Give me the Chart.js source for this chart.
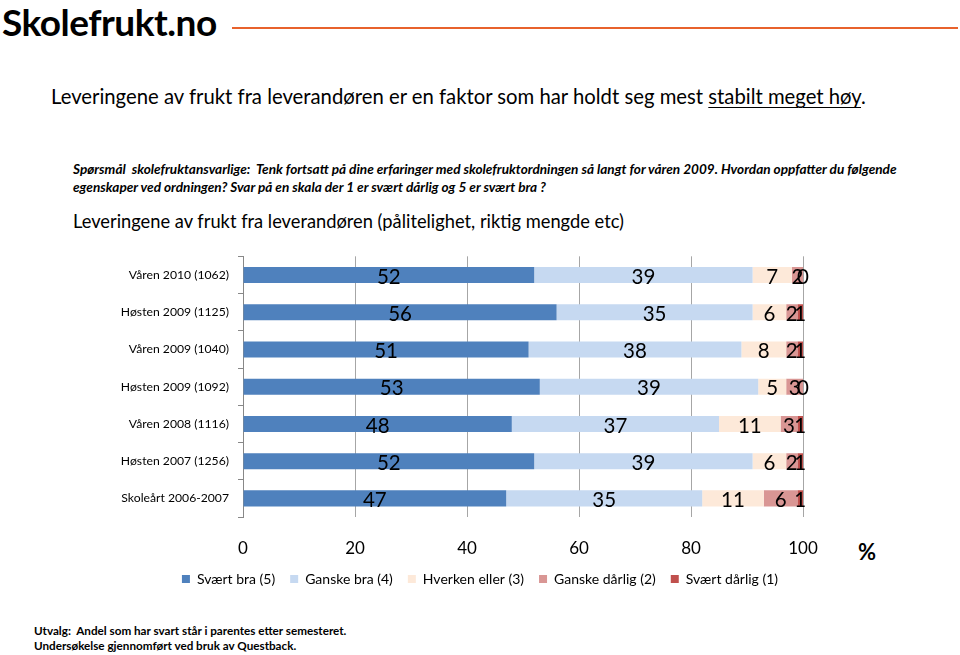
<!DOCTYPE html>
<html lang="no">
<head>
<meta charset="UTF-8">
<title>Leveringene av frukt fra leverandøren</title>
<script src="https://cdn.jsdelivr.net/npm/chart.js"></script>
<style>
    html, body { margin: 0; padding: 0; width: 960px; height: 655px; background: #fff; overflow: hidden; }
    body { position: relative; font-family: Lato, "Open Sans", sans-serif; color: #000; }
    .abs { position: absolute; white-space: nowrap; }
    #logo { left: 2px; top: -1px; font-size: 37px; font-weight: bold; letter-spacing: -0.5px; }
    #logoLine { left: 232px; top: 27px; width: 726px; height: 2px; background: #e8622c; }
    #title { left: 51px; top: 84px; font-size: 20.3px; }
    #title u { text-decoration-thickness: 1px; text-underline-offset: 3px; }
    #question { left: 73px; top: 160px; font-size: 13.6px; font-style: italic; font-weight: bold; line-height: 18px; }
    #subtitle { left: 73px; top: 210px; font-size: 18.3px; }
    #percent { left: 858px; top: 538px; font-size: 22px; font-weight: bold; }
    #footer { left: 34px; top: 623px; font-size: 11.7px; font-weight: bold; line-height: 15px; }
    #chartBox { position: absolute; left: 0; top: 240px; width: 960px; height: 360px; }
</style>
</head>
<body>
<div id="logo" class="abs">Skolefrukt.no</div>
<div id="logoLine" class="abs"></div>
<div id="title" class="abs">Leveringene av frukt fra leverandøren er en faktor som har holdt seg mest <u>stabilt meget høy</u>.</div>
<div id="question" class="abs">Spørsmål&nbsp; skolefruktansvarlige:&nbsp; Tenk fortsatt på dine erfaringer med skolefruktordningen så langt for våren 2009. Hvordan oppfatter du følgende<br>egenskaper ved ordningen? Svar på en skala der 1 er svært dårlig og 5 er svært bra ?</div>
<div id="subtitle" class="abs">Leveringene av frukt fra leverandøren (pålitelighet, riktig mengde etc)</div>
<div id="percent" class="abs">%</div>
<div id="footer" class="abs">Utvalg:&nbsp; Andel som har svart står i parentes etter semesteret.<br>Undersøkelse gjennomført ved bruk av Questback.</div>
<div id="chartBox"><canvas id="chart"></canvas></div>
<script>
    const categories = [
        "Våren 2010 (1062)",
        "Høsten 2009 (1125)",
        "Våren 2009 (1040)",
        "Høsten 2009 (1092)",
        "Våren 2008 (1116)",
        "Høsten 2007 (1256)",
        "Skoleårt 2006-2007"
    ];
    const svaertBra = [52, 56, 51, 53, 48, 52, 47];
    const ganskeBra = [39, 35, 38, 39, 37, 39, 35];
    const hverkenEller = [7, 6, 8, 5, 11, 6, 11];
    const ganskeDarlig = [2, 2, 2, 3, 3, 2, 6];
    const svaertDarlig = [0, 1, 1, 0, 1, 1, 1];
    const xTicks = [0, 20, 40, 60, 80, 100];

    const seriesNames = ["Svært bra (5)", "Ganske bra (4)", "Hverken eller (3)", "Ganske dårlig (2)", "Svært dårlig (1)"];
    const seriesData = [svaertBra, ganskeBra, hverkenEller, ganskeDarlig, svaertDarlig];
    const seriesColors = ["#4f81bd", "#c6d9f1", "#fde9d9", "#d99694", "#c0504d"];

    // value labels centred in each segment
    const segmentLabels = {
        id: 'segmentLabels',
        afterDatasetsDraw(chart) {
            const ctx = chart.ctx;
            ctx.save();
            ctx.font = '20.5px Lato, "Open Sans", sans-serif';
            ctx.fillStyle = '#000';
            ctx.textAlign = 'center';
            ctx.textBaseline = 'middle';
            chart.data.datasets.forEach((ds, i) => {
                chart.getDatasetMeta(i).data.forEach((bar, j) => {
                    const x = (bar.x + bar.base) / 2;
                    ctx.fillText(String(ds.data[j]), x, bar.y + 2);
                });
            });
            ctx.restore();
        }
    };

    new Chart(document.getElementById('chart'), {
        type: 'bar',
        data: {
            labels: categories,
            datasets: seriesData.map((d, i) => ({
                label: seriesNames[i],
                data: d,
                backgroundColor: seriesColors[i],
                borderWidth: 0,
                categoryPercentage: 1,
                barPercentage: 0.43
            }))
        },
        options: {
            indexAxis: 'y',
            responsive: true,
            maintainAspectRatio: false,
            animation: false,
            layout: { padding: { top: 10, right: 0, left: 0, bottom: 4 } },
            plugins: {
                legend: {
                    position: 'bottom',
                    labels: {
                        boxWidth: 8,
                        boxHeight: 8,
                        padding: 15,
                        color: '#000',
                        font: { family: 'Lato, "Open Sans", sans-serif', size: 14 }
                    }
                },
                tooltip: { enabled: false }
            },
            scales: {
                x: {
                    stacked: true,
                    min: 0,
                    max: 100,
                    afterBuildTicks: (scale) => { scale.ticks = xTicks.map(v => ({ value: v })); },
                    afterFit: (scale) => { scale.height = 40; },
                    grid: { color: '#a6a6a6', drawTicks: false, lineWidth: 1 },
                    border: { display: false },
                    ticks: {
                        padding: 21,
                        color: '#000',
                        font: { family: 'Lato, "Open Sans", sans-serif', size: 17 }
                    }
                },
                y: {
                    stacked: true,
                    afterFit: (scale) => { scale.width = 243; },
                    grid: { drawOnChartArea: false, drawTicks: true, tickLength: 5, color: '#888' },
                    border: { display: true, color: '#888' },
                    ticks: {
                        padding: 9,
                        color: '#000',
                        font: { family: 'Lato, "Open Sans", sans-serif', size: 12.2 }
                    }
                },
                // empty right-hand axis that keeps space for the "%" sign
                yRight: {
                    type: 'category',
                    position: 'right',
                    labels: categories,
                    afterFit: (scale) => { scale.width = 157; },
                    grid: { display: false },
                    border: { display: false },
                    ticks: { display: false }
                }
            }
        },
        plugins: [segmentLabels]
    });
</script>
</body>
</html>
